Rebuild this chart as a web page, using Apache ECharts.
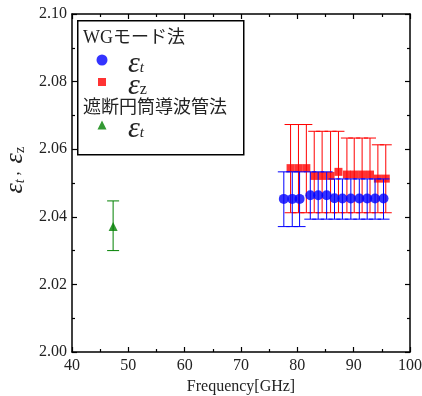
<!DOCTYPE html>
<html>
<head>
<meta charset="utf-8">
<script src="https://cdn.jsdelivr.net/npm/echarts@6/dist/echarts.min.js"></script>
<style>
  html, body { margin: 0; padding: 0; background: #fff; }
  #chart { width: 422px; height: 396px; }
</style>
</head>
<body>
<div id="chart"></div>
<script>
// WG mode method (blue: eps_t, red: eps_z)
const blueFreq = [77.6, 79.1, 80.4, 82.3, 83.7, 85.2, 86.6, 88.0, 89.5, 91.0, 92.4, 93.8, 95.3];
const blueEps  = [2.0453, 2.0453, 2.0453, 2.0464, 2.0464, 2.0464, 2.0455, 2.0454, 2.0454, 2.0454, 2.0454, 2.0454, 2.0454];
const blueLow  = [2.0371, 2.0371, 2.0371, 2.0393, 2.0393, 2.0393, 2.0393, 2.0393, 2.0393, 2.0393, 2.0393, 2.0393, 2.0393];
const blueHigh = [2.0533, 2.0533, 2.0533, 2.0533, 2.0533, 2.0533, 2.0512, 2.0512, 2.0512, 2.0512, 2.0512, 2.0512, 2.0512];

const redFreq = [78.8, 80.2, 81.6, 83.0, 84.4, 85.9, 87.3, 88.8, 90.1, 91.5, 92.9, 94.3, 95.7];
const redEps  = [2.0544, 2.0544, 2.0544, 2.0521, 2.0521, 2.0521, 2.0533, 2.0525, 2.0525, 2.0525, 2.0525, 2.0513, 2.0513];
const redLow  = [2.0412, 2.0412, 2.0412, 2.0412, 2.0412, 2.0412, 2.0412, 2.0412, 2.0412, 2.0412, 2.0412, 2.0412, 2.0412];
const redHigh = [2.0673, 2.0673, 2.0673, 2.0653, 2.0653, 2.0653, 2.0653, 2.0633, 2.0633, 2.0633, 2.0633, 2.0613, 2.0613];

// cut-off cylindrical waveguide method (green: eps_t)
const greenFreq = [47.3];
const greenEps  = [2.0371];
const greenLow  = [2.0300];
const greenHigh = [2.0447];

const serif = '"Liberation Serif", "Noto Sans CJK JP", serif';

function epsRich(big, small, lh, drop) {
  return {
    e: { fontFamily: serif, fontStyle: 'italic', fontSize: big, color: '#222', lineHeight: lh },
    s: { fontFamily: serif, fontStyle: 'italic', fontSize: small, color: '#222', verticalAlign: 'bottom', lineHeight: lh, padding: [drop, 0, 0, 0] },
    z: { fontFamily: serif, fontSize: small + 1, color: '#222', verticalAlign: 'bottom', lineHeight: lh, padding: [drop, 0, 0, 0] },
    c: { fontFamily: serif, fontSize: 16, color: '#222', lineHeight: lh }
  };
}

function pairs(xs, ys) { return xs.map((x, i) => [x, ys[i]]); }
function triples(xs, lo, hi) { return xs.map((x, i) => [x, lo[i], hi[i]]); }

function errRender(params, api) {
  const x = api.value(0);
  const top = api.coord([x, api.value(2)]);
  const bot = api.coord([x, api.value(1)]);
  const hw = 6;
  const style = { stroke: api.visual('color'), lineWidth: 1 };
  return {
    type: 'group',
    children: [
      { type: 'line', shape: { x1: top[0], y1: top[1], x2: bot[0], y2: bot[1] }, style: style },
      { type: 'line', shape: { x1: top[0] - hw, y1: top[1], x2: top[0] + hw, y2: top[1] }, style: style },
      { type: 'line', shape: { x1: bot[0] - hw, y1: bot[1], x2: bot[0] + hw, y2: bot[1] }, style: style }
    ]
  };
}

const axisCommon = {
  axisLine: { show: true, onZero: false, lineStyle: { color: '#000', width: 1.5 } },
  axisTick: { show: true, inside: true, length: 5, lineStyle: { color: '#000', width: 1.2 } },
  minorTick: { show: true, splitNumber: 2, length: 3, lineStyle: { color: '#000', width: 1.2 } },
  splitLine: { show: false }
};

// one legend per entry so every icon keeps its own size and place
function legendItem(name, icon, size, centerY) {
  return {
    data: [{ name: name, icon: icon }],
    left: 97 - size / 2, top: centerY - 16,
    itemWidth: size, itemHeight: size,
    symbolKeepAspect: true,
    selectedMode: false,
    formatter: n => (n === 'WG_z' ? '{e|ε}{z|z}' : '{e|ε}{s|t}'),
    textStyle: { padding: [8, 0, 0, 21 - size / 2], rich: epsRich(30, 15, 24, 10) }
  };
}

const chart = echarts.init(document.getElementById('chart'), null, { renderer: 'canvas' });
chart.setOption({
  animation: false,
  backgroundColor: '#fff',
  grid: { left: 72, right: 12, top: 14, bottom: 44, outerBoundsMode: 'none', containLabel: false },
  xAxis: [
    Object.assign({}, axisCommon, {
      type: 'value', min: 40, max: 100, interval: 10, position: 'bottom',
      axisLabel: { fontFamily: serif, fontSize: 16, color: '#222', margin: 6 },
      name: 'Frequency[GHz]', nameLocation: 'middle', nameGap: 24,
      nameTextStyle: { fontFamily: serif, fontSize: 16, color: '#222' }
    }),
    Object.assign({}, axisCommon, {
      type: 'value', min: 40, max: 100, interval: 10, position: 'top',
      axisLabel: { show: false }
    })
  ],
  yAxis: [
    Object.assign({}, axisCommon, {
      type: 'value', min: 2.0, max: 2.1, interval: 0.02, position: 'left',
      axisLabel: { fontFamily: serif, fontSize: 16, color: '#222', margin: 5, formatter: v => v.toFixed(2) },
      name: '{e|ε}{s|t}{c| ,  }{e|ε}{z|z}', nameLocation: 'middle', nameRotate: 90, nameGap: 42,
      nameTextStyle: { padding: [0, 0, 0, 26], rich: epsRich(26, 14, 24, 9) }
    }),
    Object.assign({}, axisCommon, {
      type: 'value', min: 2.0, max: 2.1, interval: 0.02, position: 'right',
      axisLabel: { show: false }
    })
  ],
  legend: [
    legendItem('WG_t', 'circle', 11, 60),
    legendItem('WG_z', 'rect', 8, 82),
    legendItem('CW_t', 'triangle', 9, 125)
  ],
  graphic: [
    { type: 'rect', left: 77, top: 20, shape: { width: 166, height: 134 },
      style: { fill: '#fff', stroke: '#000', lineWidth: 1.5 }, z: 0 },
    { type: 'text', left: 83, top: 29, style: { text: 'WGモード法', font: '18px ' + serif, fill: '#222' }, z: 5 },
    { type: 'text', left: 83, top: 99, style: { text: '遮断円筒導波管法', font: '18px ' + serif, fill: '#222' }, z: 5 }
  ],
  series: [
    { name: 'WG_z_err', type: 'custom', renderItem: errRender, itemStyle: { color: '#ff0000' },
      encode: { x: 0, y: [1, 2] }, data: triples(redFreq, redLow, redHigh), z: 2 },
    { name: 'WG_z', type: 'scatter', symbol: 'rect', symbolSize: 8, itemStyle: { color: '#ff0000' },
      data: pairs(redFreq, redEps), z: 3 },
    { name: 'WG_t_err', type: 'custom', renderItem: errRender, itemStyle: { color: '#0000ff' },
      encode: { x: 0, y: [1, 2] }, data: triples(blueFreq, blueLow, blueHigh), z: 4 },
    { name: 'WG_t', type: 'scatter', symbol: 'circle', symbolSize: 10, itemStyle: { color: '#0000ff' },
      data: pairs(blueFreq, blueEps), z: 5 },
    { name: 'CW_t_err', type: 'custom', renderItem: errRender, itemStyle: { color: '#008000' },
      encode: { x: 0, y: [1, 2] }, data: triples(greenFreq, greenLow, greenHigh), z: 4 },
    { name: 'CW_t', type: 'scatter', symbol: 'triangle', symbolSize: 9, itemStyle: { color: '#008000' },
      data: pairs(greenFreq, greenEps), z: 5 }
  ]
});
</script>
</body>
</html>
